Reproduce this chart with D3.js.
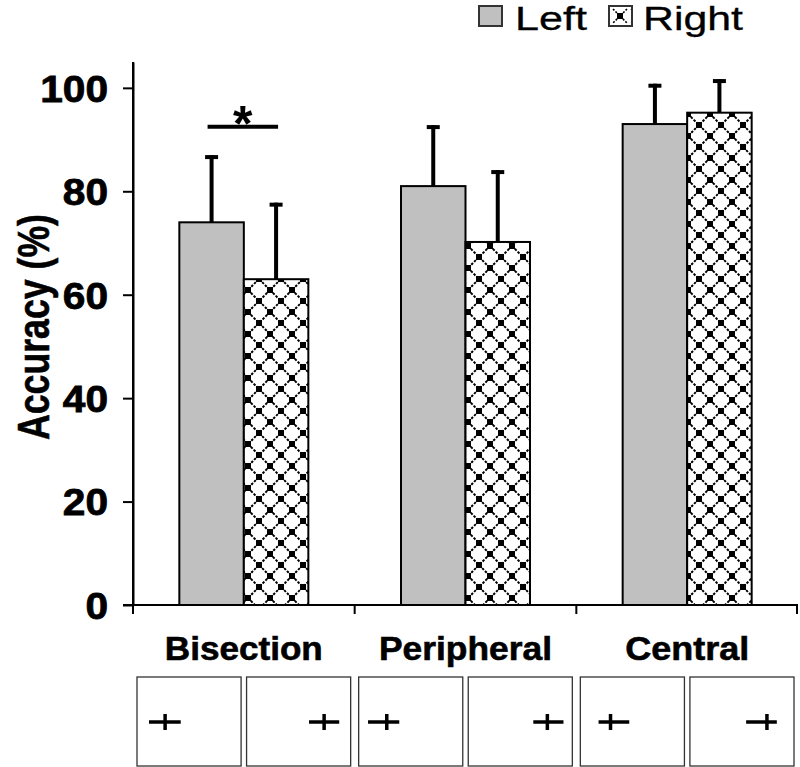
<!DOCTYPE html>
<html><head><meta charset="utf-8">
<script src="https://cdn.jsdelivr.net/npm/d3@7"></script>
<style>body{margin:0;background:#fff}svg{display:block}text{font-family:"Liberation Sans",Arial,sans-serif}</style>
</head><body>
<svg id="chart" width="800" height="767"></svg>
<script>
const categories = ["Bisection", "Peripheral", "Central"];
const series = ["Left", "Right"];
const leftMeans = [74, 81, 93];
const rightMeans = [63, 70.2, 95.2];
const leftErr = [13, 11.8, 7.8];
const rightErr = [14.8, 13.9, 6.5];
const yTicks = [0, 20, 40, 60, 80, 100];
const significance = [{category: "Bisection", value: 92.5, label: "*"}];
// stimulus panels: [category, side, line start, line end, mark] as fractions of panel width
const stimuli = [
  ["Bisection", "Left", 0.115, 0.42, 0.27], ["Bisection", "Right", 0.6, 0.89, 0.745],
  ["Peripheral", "Left", 0.09, 0.39, 0.27], ["Peripheral", "Right", 0.625, 0.915, 0.76],
  ["Central", "Left", 0.175, 0.47, 0.29], ["Central", "Right", 0.54, 0.835, 0.74]
];

const svg = d3.select("#chart");
const defs = svg.append("defs");
const T = 22;
const pat = defs.append("pattern").attr("id", "lattice").attr("patternUnits", "userSpaceOnUse")
  .attr("width", T).attr("height", T).attr("x", 6).attr("y", 4);
pat.append("rect").attr("width", T).attr("height", T).attr("fill", "#fff");
pat.append("path").attr("d", `M0,0L${T},${T}M${T},0L0,${T}`).attr("stroke", "#000")
  .attr("stroke-width", 2).attr("stroke-dasharray", "2.5,1.5").attr("fill", "none");
[[0,0],[T,0],[0,T],[T,T],[T/2,T/2]].forEach(([cx,cy]) =>
  pat.append("rect").attr("x", cx-3).attr("y", cy-3).attr("width", 6).attr("height", 6).attr("fill", "#000"));

const smallPat = defs.append("pattern").attr("id", "latticeSmall").attr("patternUnits", "userSpaceOnUse")
  .attr("width", 18).attr("height", 18).attr("x", 611).attr("y", 7);
smallPat.append("rect").attr("width", 18).attr("height", 18).attr("fill", "#fff");
smallPat.append("path").attr("d", "M2,2L16,16M16,2L2,16").attr("stroke", "#000").attr("stroke-width", 1.6)
  .attr("stroke-dasharray", "2,1.5");
smallPat.append("rect").attr("x", 6).attr("y", 6).attr("width", 6).attr("height", 6).attr("fill", "#000");

const fills = {Left: "#c0c0c0", Right: "url(#lattice)"};

const x = d3.scaleBand().domain(categories).range([133, 798]).paddingInner(0).paddingOuter(0);
const bw = x.bandwidth();
const xs = d3.scaleBand().domain(series).range([bw/2 - 64.5, bw/2 + 64.5]).paddingInner(0);
const y = d3.scaleLinear().domain([0, 105]).range([605, 62]);

const data = [];
categories.forEach((c, i) => {
  data.push({c, s: "Left", v: leftMeans[i], e: leftErr[i]});
  data.push({c, s: "Right", v: rightMeans[i], e: rightErr[i]});
});

// error bars (behind bars)
const eb = svg.append("g");
data.forEach(d => {
  const cx = x(d.c) + xs(d.s) + xs.bandwidth()/2;
  eb.append("line").attr("x1", cx).attr("x2", cx).attr("y1", y(d.v)).attr("y2", y(d.v + d.e))
    .attr("stroke", "#000").attr("stroke-width", 4);
  eb.append("line").attr("x1", cx - 6.5).attr("x2", cx + 6.5).attr("y1", y(d.v + d.e) + 2).attr("y2", y(d.v + d.e) + 2)
    .attr("stroke", "#000").attr("stroke-width", 4);
});

// bars
svg.append("g").selectAll("rect").data(data).join("rect")
  .attr("x", d => x(d.c) + xs(d.s)).attr("width", xs.bandwidth())
  .attr("y", d => y(d.v)).attr("height", d => y(0) - y(d.v))
  .attr("fill", d => fills[d.s]).attr("stroke", "#000").attr("stroke-width", 2);

// y axis
const yAxis = svg.append("g").attr("transform", "translate(133,0)")
  .call(d3.axisLeft(y).tickValues(yTicks).tickSize(10).tickPadding(15).tickSizeOuter(0));
yAxis.select(".domain").attr("stroke-width", 2);
yAxis.selectAll(".tick line").attr("stroke-width", 2);
yAxis.selectAll(".tick text").attr("font-size", 37).attr("font-weight", "bold").attr("fill", "#000")
  .attr("stroke", "#000").attr("stroke-width", 0.8)
  .attr("dy", "0.36em")
  .attr("textLength", d => String(d).length * 22.6).attr("lengthAdjust", "spacingAndGlyphs");
svg.append("line").attr("x1", 133).attr("x2", 133).attr("y1", 62).attr("y2", 605)
  .attr("stroke", "#000").attr("stroke-width", 2);

// x axis
svg.append("line").attr("x1", 123).attr("x2", 798).attr("y1", 605).attr("y2", 605)
  .attr("stroke", "#000").attr("stroke-width", 2);
const bounds = categories.map(c => x(c)).concat([x.range()[1]]);
svg.append("g").selectAll("line").data(bounds).join("line")
  .attr("x1", d => d === 798 ? 797 : d).attr("x2", d => d === 798 ? 797 : d)
  .attr("y1", 605).attr("y2", 614).attr("stroke", "#000").attr("stroke-width", 2);
const catWidths = {Bisection: 158, Peripheral: 173, Central: 124};
svg.append("g").selectAll("text").data(categories).join("text")
  .attr("x", d => x(d) + bw/2).attr("y", 660).attr("text-anchor", "middle")
  .attr("font-size", 34).attr("font-weight", "bold").attr("stroke", "#000").attr("stroke-width", 0.6)
  .attr("textLength", d => catWidths[d]).attr("lengthAdjust", "spacingAndGlyphs").text(d => d);

// y label
svg.append("text").attr("transform", "translate(49,327) rotate(-90)").attr("text-anchor", "middle")
  .attr("font-size", 45).attr("font-weight", "bold").attr("stroke", "#000").attr("stroke-width", 0.6)
  .attr("textLength", 226).attr("lengthAdjust", "spacingAndGlyphs").text("Accuracy (%)");

// significance
significance.forEach(s => {
  const x1 = x(s.category) + xs("Left") + xs.bandwidth()/2 - 4;
  const x2 = x(s.category) + xs("Right") + xs.bandwidth()/2 + 2;
  svg.append("line").attr("x1", x1).attr("x2", x2).attr("y1", y(s.value)).attr("y2", y(s.value))
    .attr("stroke", "#000").attr("stroke-width", 4);
  svg.append("text").attr("x", (x1 + x2)/2).attr("y", y(s.value) + 14).attr("text-anchor", "middle")
    .attr("font-size", 50).attr("font-weight", "bold").text(s.label);
});

// stimulus panels
const xp = d3.scaleBand().domain(series).range([4, bw - 4]).paddingInner(0.05);
const pw = xp.bandwidth();
const pg = svg.append("g");
stimuli.forEach(([c, s, a, b, m]) => {
  const px = x(c) + xp(s);
  pg.append("rect").attr("x", px).attr("y", 677).attr("width", pw).attr("height", 89)
    .attr("fill", "#fff").attr("stroke", "#333").attr("stroke-width", 1.3);
  pg.append("line").attr("x1", px + a*pw).attr("x2", px + b*pw).attr("y1", 722).attr("y2", 722)
    .attr("stroke", "#000").attr("stroke-width", 3.5);
  pg.append("line").attr("x1", px + m*pw).attr("x2", px + m*pw).attr("y1", 714).attr("y2", 730)
    .attr("stroke", "#000").attr("stroke-width", 3.5);
});

// legend
const legend = [
  {name: "Left", bx: 479, tx: 515, tw: 72, fill: "#c0c0c0"},
  {name: "Right", bx: 609, tx: 643, tw: 100, fill: "url(#latticeSmall)"}
];
legend.forEach(l => {
  svg.append("rect").attr("x", l.bx).attr("y", 6).attr("width", 23).attr("height", 20)
    .attr("fill", l.fill).attr("stroke", "#333").attr("stroke-width", 2);
  svg.append("text").attr("x", l.tx).attr("y", 30).attr("font-size", 33).attr("stroke", "#000").attr("stroke-width", 0.3)
    .attr("textLength", l.tw).attr("lengthAdjust", "spacingAndGlyphs").text(l.name);
});
</script>
</body></html>
